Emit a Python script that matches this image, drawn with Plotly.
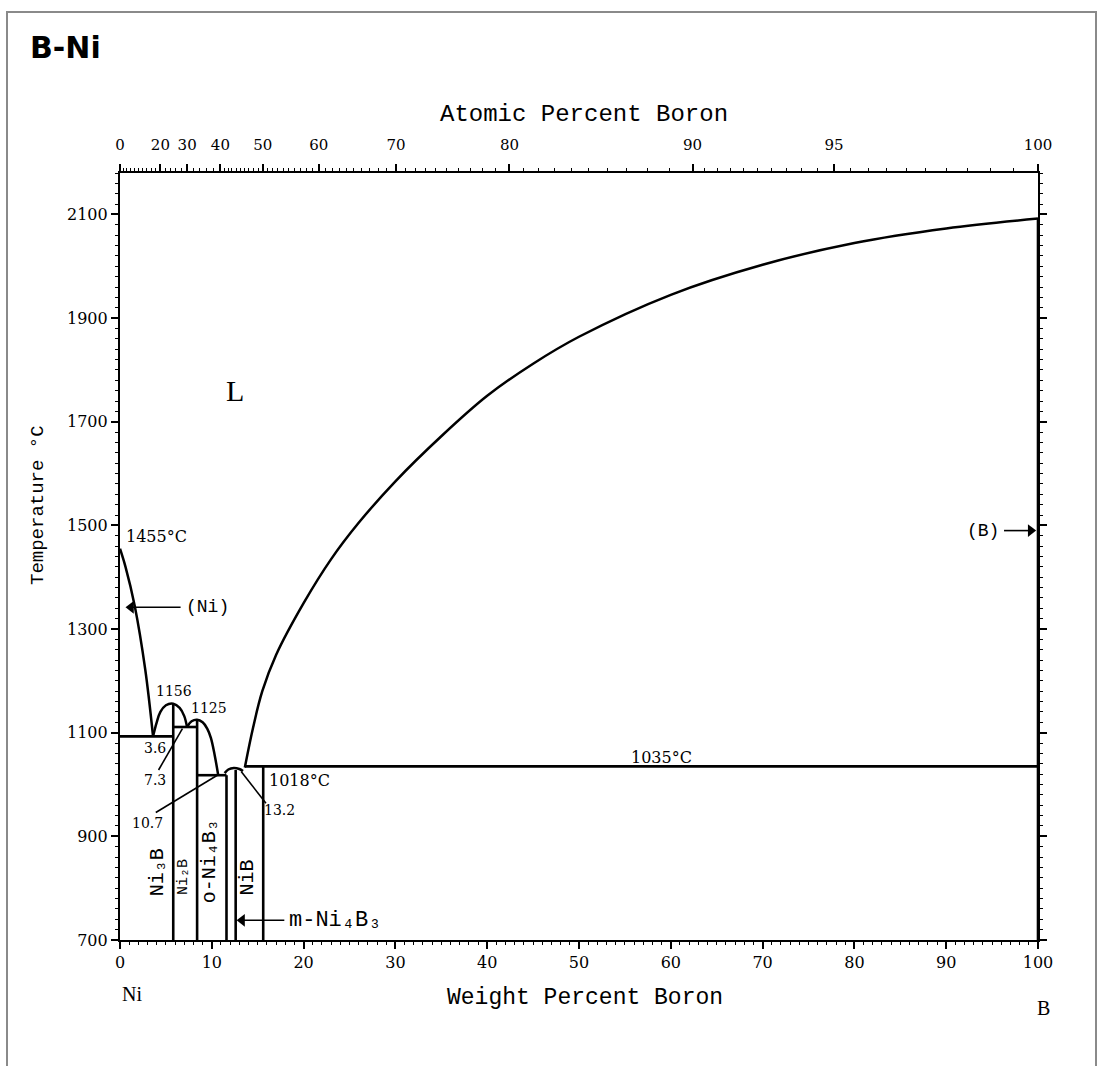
import plotly.graph_objects as go

# ---------------- data ----------------
# Ni-side liquidus: 1455 C (Ni) down to the eutectic at 3.6 wt% / 1093 C
liq_ni_wt = [0, 0.6, 1.6, 2.75, 3.6]
liq_ni_T = [1455, 1420, 1345, 1222, 1093]
# Ni3B congruent dome (1156 C)
ni3b_dome_wt = [3.6, 4.0, 4.4, 5.0, 5.8, 6.5, 7.0, 7.3]
ni3b_dome_T = [1093, 1120, 1140, 1153, 1156, 1148, 1132, 1111]
# Ni2B congruent dome (1125 C)
ni2b_dome_wt = [7.3, 7.8, 8.4, 9.0, 9.5, 9.9, 10.3, 10.7]
ni2b_dome_T = [1111, 1122, 1125, 1120, 1108, 1090, 1058, 1018]
# small liquidus dome near Ni4B3
ni4b3_dome_wt = [11.4, 11.8, 12.4, 13.0, 13.4]
ni4b3_dome_T = [1022, 1029, 1032, 1030, 1026]
# B-side liquidus up to 2092 C
liq_b_wt = [13.6, 14.5, 15.5, 17, 20, 23, 26, 30, 35, 40, 45, 50, 60, 70, 80, 90, 100]
liq_b_T = [1033, 1110, 1180, 1250, 1350, 1435, 1505, 1585, 1672, 1750, 1812,
           1864, 1945, 2003, 2045, 2073, 2092]

# invariant (horizontal) lines
iso_wt_start = [0, 5.8, 8.4, 13.6]
iso_wt_end = [5.8, 8.4, 11.6, 100]
iso_T = [1093, 1111, 1018, 1035]

# compound (vertical) lines
comp_wt = [5.8, 8.4, 11.6, 12.6, 15.6, 100]
comp_top_T = [1156, 1125, 1018, 1028, 1035, 2092]
T_bottom = 700

# axis ticks
wt_ticks = [0, 10, 20, 30, 40, 50, 60, 70, 80, 90, 100]
T_ticks = [700, 900, 1100, 1300, 1500, 1700, 1900, 2100]
T_ticklabels = ["700", "900", "1100", "1300", "1500", "1700", "1900", "2100"]
at_ticks = [0, 20, 30, 40, 50, 60, 70, 80, 90, 95, 100]
at_ticklabels = ["0", "20", "30", "40", "50", "60", "70", "80", "90", "95", "100"]

M_B, M_NI = 10.81, 58.69


def at_to_wt(a):
    return 100.0 * a * M_B / (a * M_B + (100.0 - a) * M_NI)


at_minor = ([2 * i for i in range(1, 20)] + [i for i in range(41, 90)]
            + [90 + 0.5 * k for k in range(1, 20)])

LINE = dict(color="black", width=2.6)
SERIF = "DejaVu Serif"
LSERIF = "Liberation Serif"
MONO = "Liberation Mono, DejaVu Sans Mono"

fig = go.Figure()

for xs, ys in [(liq_ni_wt, liq_ni_T), (ni3b_dome_wt, ni3b_dome_T),
               (ni2b_dome_wt, ni2b_dome_T), (ni4b3_dome_wt, ni4b3_dome_T),
               (liq_b_wt, liq_b_T)]:
    fig.add_trace(go.Scatter(x=xs, y=ys, mode="lines",
                             line=dict(color="black", width=2.5, shape="spline", smoothing=1.0),
                             hoverinfo="skip", showlegend=False))

for x0, x1, t in zip(iso_wt_start, iso_wt_end, iso_T):
    fig.add_trace(go.Scatter(x=[x0, x1], y=[t, t], mode="lines", line=LINE,
                             hoverinfo="skip", showlegend=False))

for w, t in zip(comp_wt, comp_top_T):
    fig.add_trace(go.Scatter(x=[w, w], y=[T_bottom, t], mode="lines", line=LINE,
                             hoverinfo="skip", showlegend=False))

# invisible trace on the top axis so it is drawn
fig.add_trace(go.Scatter(x=[0, 100], y=[700, 700], xaxis="x2", mode="lines",
                         line=dict(width=0), hoverinfo="skip", showlegend=False))

ann = []


def txt(x, y, s, size=15, xanchor="center", yanchor="middle", angle=0, family=SERIF, xref="x", yref="y"):
    ann.append(dict(x=x, y=y, xref=xref, yref=yref, text=s, showarrow=False,
                    xanchor=xanchor, yanchor=yanchor, textangle=angle,
                    font=dict(family=family, size=size, color="black")))


def arrow(x_tip, y, x_tail, symbol):
    fig.add_trace(go.Scatter(x=[x_tip, x_tail], y=[y, y], mode="lines",
                             line=dict(color="black", width=1.6), hoverinfo="skip", showlegend=False))
    fig.add_trace(go.Scatter(x=[x_tip], y=[y], mode="markers",
                             marker=dict(symbol=symbol, size=11, color="black"),
                             hoverinfo="skip", showlegend=False))


def leader(x0, y0, x1, y1):
    fig.add_shape(type="line", x0=x0, y0=y0, x1=x1, y1=y1, xref="x", yref="y",
                  line=dict(color="black", width=1.6))


txt(0.4, 1478, "1455°C", size=16, xanchor="left")
txt(7.0, 1342, "(Ni)", size=18, xanchor="left", family=MONO)
arrow(1.2, 1342, 6.6, "triangle-left")
txt(5.9, 1180, "1156", size=14)
txt(9.7, 1147, "1125", size=14)
txt(3.8, 1070, "3.6", size=14)
txt(3.8, 1008, "7.3", size=14)
leader(4.2, 1028, 6.8, 1108)
txt(3.0, 926, "10.7", size=14)
leader(3.9, 946, 10.6, 1018)
txt(17.4, 950, "13.2", size=14)
leader(15.9, 964, 13.2, 1025)
txt(16.0, 1008, "1018°C", size=16, xanchor="left")
txt(59, 1052, "1035°C", size=16)
txt(100.3, 2106, "2092°C", size=16, xanchor="right")
txt(12.5, 1760, "L", size=30, family=LSERIF)
txt(96.0, 1490, "(B)", size=18, xanchor="right", family=MONO)
arrow(99.2, 1490, 96.3, "triangle-right")

txt(4.1, 830, "Ni₃B", size=20, angle=-90, family=MONO)
txt(6.9, 822, "Ni₂B", size=15, angle=-90, family=MONO)
txt(9.7, 852, "o-Ni₄B₃", size=20, angle=-90, family=MONO)
txt(13.9, 820, "NiB", size=20, angle=-90, family=MONO)
txt(18.2, 738, "m-Ni₄B₃", size=22, xanchor="left", family=MONO)
arrow(13.3, 738, 17.9, "triangle-left")

# page texts (paper coordinates: x 0->120px, 1->1038px ; y 0->940px, 1->173px)
W0, W1 = 120, 1038
H0, H1 = 940, 173


def px(xp):
    return (xp - W0) / (W1 - W0)


def py(yp):
    return (H0 - yp) / (H0 - H1)


txt(px(28), py(48), "<b>B-Ni</b>", size=30, xanchor="left", family="DejaVu Sans", xref="paper", yref="paper")
txt(px(584), py(114), "Atomic Percent Boron", size=24, family=MONO, xref="paper", yref="paper")
txt(px(585), py(998), "Weight Percent Boron", size=23, family=MONO, xref="paper", yref="paper")
txt(px(38), py(505), "Temperature °C", size=19, angle=-90, family=MONO, xref="paper", yref="paper")
txt(px(132), py(994), "Ni", size=20, family=LSERIF, xref="paper", yref="paper")
txt(px(1043), py(1008), "B", size=20, family=LSERIF, xref="paper", yref="paper")

# page frame
fig.add_shape(type="rect", xref="paper", yref="paper", x0=px(7), x1=px(1096), y0=py(1080), y1=py(12),
              line=dict(color="#8a8a8a", width=2), layer="below")

axis_common = dict(showgrid=False, zeroline=False, showline=True, linecolor="black",
                   linewidth=2.2, tickcolor="black")

fig.update_layout(
    width=1103, height=1066,
    margin=dict(l=W0, r=1103 - W1, t=H1, b=1066 - H0),
    paper_bgcolor="white", plot_bgcolor="white",
    showlegend=False,
    annotations=ann,
    xaxis=dict(range=[0, 100], tickmode="array", tickvals=wt_ticks, ticks="outside",
               ticklen=7, tickwidth=1.5, mirror=False,
               tickfont=dict(family=SERIF, size=16, color="black"),
               minor=dict(dtick=1, ticks="outside", ticklen=3, tickwidth=1, tickcolor="black"),
               **axis_common),
    xaxis2=dict(range=[0, 100], overlaying="x", side="top", anchor="y", tickmode="array",
                tickvals=[at_to_wt(a) for a in at_ticks], ticktext=at_ticklabels,
                ticks="outside", ticklen=7, tickwidth=1.5, ticklabelstandoff=8,
                tickfont=dict(family=SERIF, size=15, color="black"),
                minor=dict(tickvals=[at_to_wt(a) for a in at_minor] + [at_to_wt(10)], ticks="outside",
                           ticklen=3, tickwidth=1, tickcolor="black"),
                **axis_common),
    yaxis=dict(range=[700, 2180], tickmode="array", tickvals=T_ticks, ticktext=T_ticklabels,
               ticks="outside", ticklen=7, tickwidth=1.5, mirror="ticks",
               tickfont=dict(family=SERIF, size=16, color="black"),
               minor=dict(dtick=20, tick0=700, ticks="outside", ticklen=3, tickwidth=1, tickcolor="black"),
               **axis_common),
)

fig.write_html("out.html")
